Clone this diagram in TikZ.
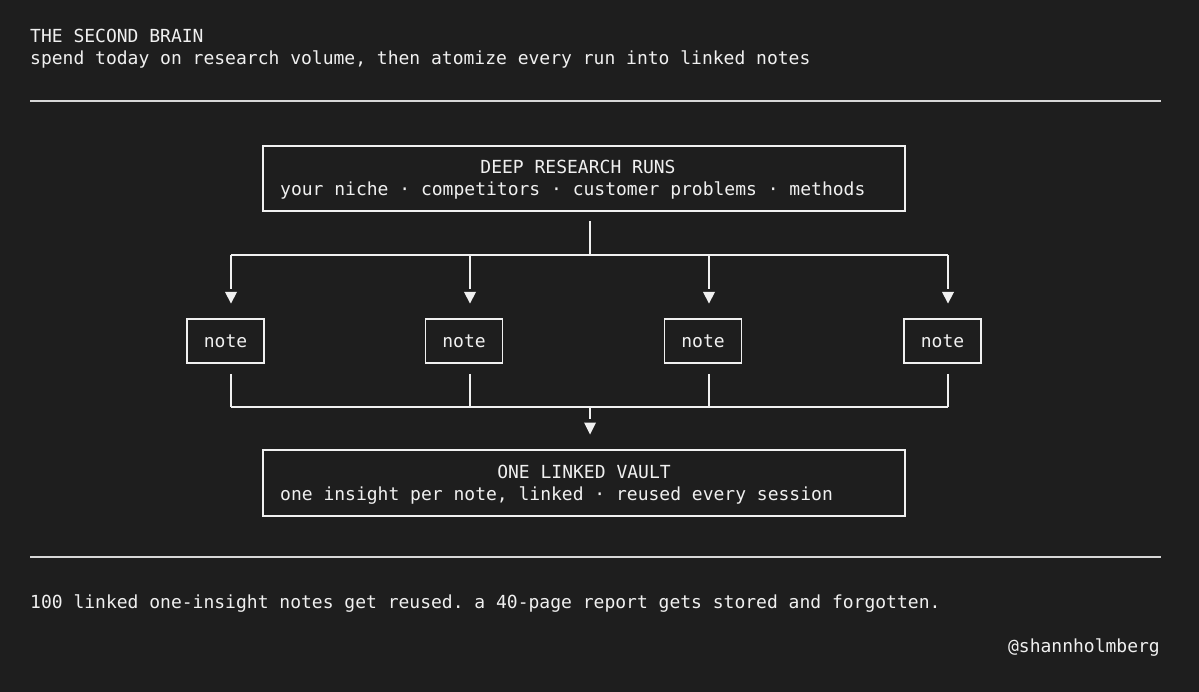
\documentclass[tikz,border=0pt]{standalone}
\usepackage{fontspec}
\setmonofont{DejaVu Sans Mono}
\usetikzlibrary{arrows.meta}
\definecolor{bg}{RGB}{30,30,30}
\definecolor{fg}{RGB}{240,240,240}
\definecolor{rule}{RGB}{215,215,215}
\tikzset{
  txt/.style={text=fg, font=\ttfamily\fontsize{18}{20}\selectfont, inner sep=0pt, anchor=base west},
  ctxt/.style={txt, anchor=base},
  boxed/.style={draw=fg, line width=1.5pt, inner sep=0pt},
  wire/.style={draw=fg, line width=1.5pt},
  tiphead/.style={fill=fg},
}
\begin{document}
\begin{tikzpicture}[x=1pt,y=-1pt]
\fill[bg] (0,0) rectangle (1199,692);
\useasboundingbox (0,0) rectangle (1199,692);

% header
\node[txt] (title) at (30,43) {THE SECOND BRAIN};
\node[txt] (sub) at (30,64.5) {spend today on research volume, then atomize every run into linked notes};
\coordinate (r1a) at (30,101);
\coordinate (r1b) at (1161,101);
\draw[draw=rule, line width=1.5pt] (r1a) -- (r1b);

% top box
\node[boxed, minimum width=642pt, minimum height=65pt] (top) at (584,178.5) {};
\node[ctxt] (toptitle) at (578,174) {DEEP RESEARCH RUNS};
\node[txt] (topline) at (280,195.5) {your niche · competitors · customer problems · methods};

% notes
\foreach \i/\x in {1/225.5,2/464,3/703,4/942.5}{
  \node[boxed, minimum width=77pt, minimum height=44pt] (n\i) at (\x,341) {};
  \node[ctxt] (t\i) at (\x,347.5) {note};
}

% fan out
\coordinate (s0) at (590,221);
\coordinate (s1) at (590,255);
\draw[wire] (s0) -- (s1);
\coordinate (bl) at (231,255);
\coordinate (br) at (948,255);
\draw[wire] (bl) -- (br);
\foreach \i/\x in {1/231,2/470,3/709,4/948}{
  \coordinate (d\i) at (\x,255);
  \coordinate (e\i) at (\x,289);
  \draw[wire] (d\i) -- (e\i);
  \fill[tiphead] (\x-6,292) -- (\x+6,292) -- (\x,303.5) -- cycle;
}

% fan in
\foreach \i/\x in {1/231,2/470,3/709,4/948}{
  \coordinate (u\i) at (\x,374);
  \coordinate (v\i) at (\x,407);
  \draw[wire] (u\i) -- (v\i);
}
\draw[wire] (v1) -- (v4);
\coordinate (m0) at (590,407);
\coordinate (m1) at (590,419);
\draw[wire] (m0) -- (m1);
\fill[tiphead] (584,422.5) -- (596,422.5) -- (590,434.5) -- cycle;

% vault box
\node[boxed, minimum width=642pt, minimum height=66pt] (vault) at (584,483) {};
\node[ctxt] (vtitle) at (584,478) {ONE LINKED VAULT};
\node[txt] (vline) at (280,500) {one insight per note, linked · reused every session};

% footer
\coordinate (r2a) at (30,557);
\coordinate (r2b) at (1161,557);
\draw[draw=rule, line width=1.5pt] (r2a) -- (r2b);
\node[txt] (foot) at (30,608) {100 linked one-insight notes get reused. a 40-page report gets stored and forgotten.};
\node[txt, anchor=base east] (handle) at (1160,652) {@shannholmberg};
\end{tikzpicture}
\end{document}
